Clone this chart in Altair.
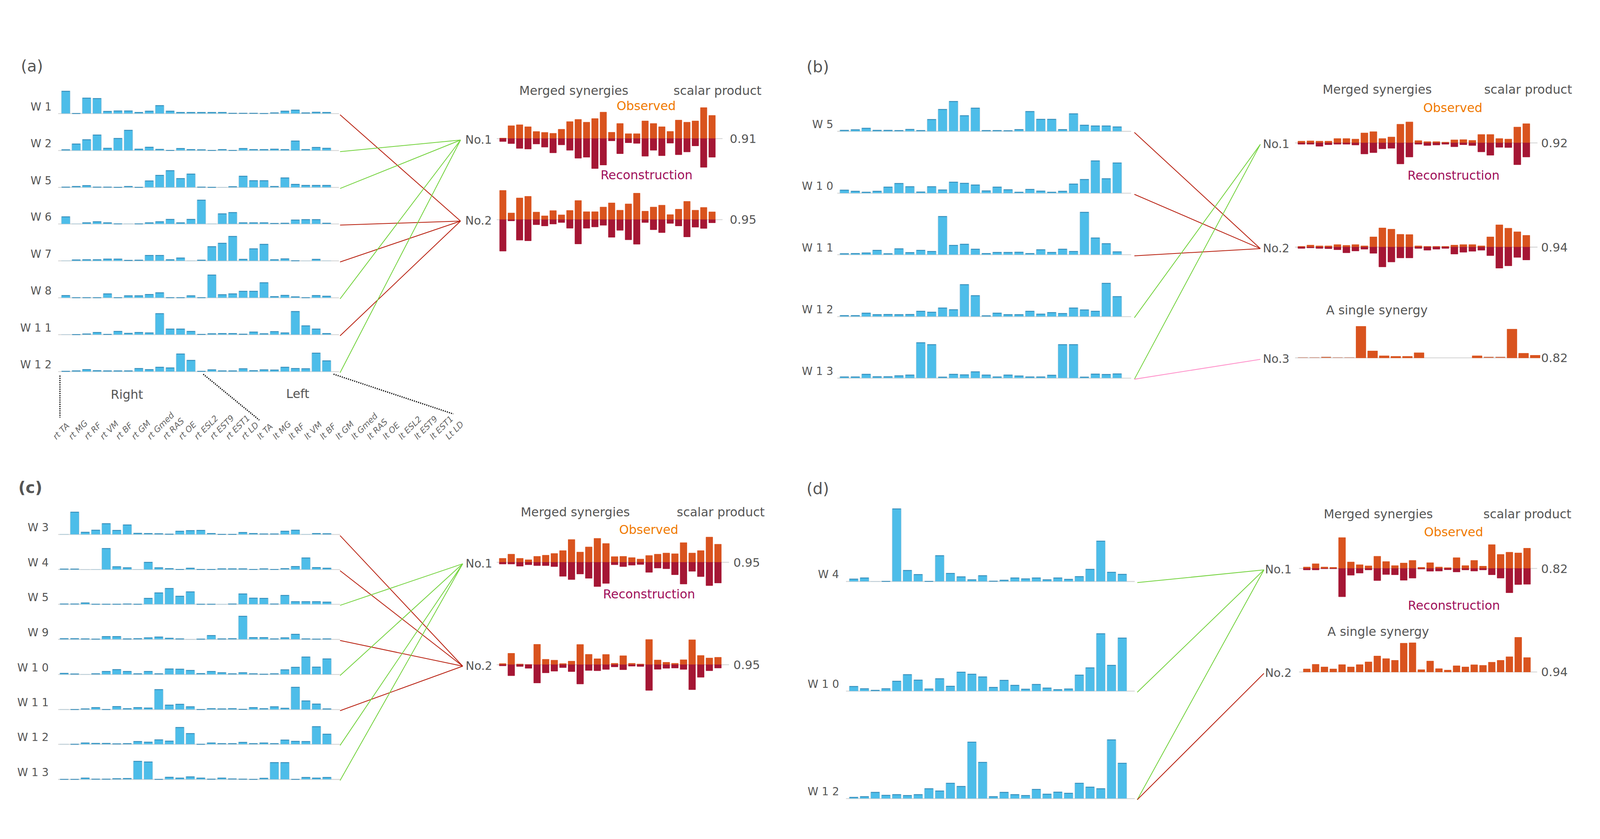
import altair as alt
import pandas as pd

# ------------------------------------------------------------------ data
MUSCLES = ["rt TA", "rt MG", "rt RF", "rt VM", "rt BF", "rt GM", "rt Gmed", "rt RAS", "rt OE",
           "rt ESL2", "rt EST9", "rt EST1", "rt LD", "lt TA", "lt MG", "lt RF", "lt VM", "lt BF",
           "lt GM", "lt Gmed", "lt RAS", "lt OE", "lt ESL2", "lt EST9", "lt EST1", "Lt LD"]

# panel (a)
A_NAMES = ["W 1", "W 2", "W 5", "W 6", "W 7", "W 8", "W 1 1", "W 1 2"]
A_W1 = [1.06, 0.02, 0.74, 0.72, 0.12, 0.14, 0.14, 0.07, 0.13, 0.39, 0.13, 0.07, 0.07, 0.07, 0.07, 0.07, 0.03, 0.03, 0.03, 0.02, 0.05, 0.13, 0.18, 0.05, 0.08, 0.07]
A_W2 = [0.05, 0.32, 0.52, 0.74, 0.12, 0.58, 0.96, 0.08, 0.17, 0.07, 0.02, 0.11, 0.06, 0.05, 0.02, 0.06, 0.02, 0.11, 0.06, 0.06, 0.08, 0.06, 0.46, 0.06, 0.16, 0.12]
A_W5 = [0.03, 0.06, 0.10, 0.03, 0.03, 0.02, 0.06, 0.02, 0.32, 0.58, 0.80, 0.43, 0.64, 0.03, 0.02, 0.01, 0.05, 0.54, 0.33, 0.33, 0.06, 0.46, 0.16, 0.11, 0.11, 0.11]
A_W6 = [0.35, 0.01, 0.07, 0.12, 0.07, 0.02, 0.01, 0.02, 0.07, 0.12, 0.23, 0.07, 0.23, 1.13, 0.01, 0.49, 0.55, 0.07, 0.07, 0.07, 0.04, 0.05, 0.20, 0.22, 0.22, 0.05]
A_W7 = [0.01, 0.06, 0.07, 0.07, 0.10, 0.10, 0.04, 0.05, 0.27, 0.27, 0.07, 0.15, 0.01, 0.05, 0.68, 0.84, 1.16, 0.09, 0.58, 0.79, 0.07, 0.11, 0.02, 0.00, 0.09, 0.01]
A_W8 = [0.12, 0.02, 0.02, 0.02, 0.20, 0.02, 0.11, 0.11, 0.17, 0.25, 0.02, 0.02, 0.11, 0.02, 1.08, 0.16, 0.20, 0.32, 0.32, 0.72, 0.07, 0.13, 0.06, 0.02, 0.12, 0.09]
A_W11 = [0.01, 0.02, 0.05, 0.12, 0.03, 0.17, 0.08, 0.12, 0.10, 1.00, 0.28, 0.28, 0.17, 0.03, 0.06, 0.07, 0.07, 0.04, 0.14, 0.06, 0.16, 0.10, 1.10, 0.43, 0.28, 0.07]
A_W12 = [0.03, 0.05, 0.11, 0.06, 0.05, 0.05, 0.05, 0.16, 0.11, 0.22, 0.19, 0.84, 0.54, 0.03, 0.10, 0.05, 0.05, 0.15, 0.06, 0.10, 0.09, 0.22, 0.16, 0.15, 0.88, 0.52]
A_LINKS = [(0, 2), (1, 1), (2, 1), (3, 2), (4, 2), (5, 1), (6, 2), (7, 1)]
A_NO1_OBS = [0.04, 1.02, 1.10, 0.94, 0.56, 0.49, 0.42, 0.74, 1.35, 1.52, 1.30, 1.59, 2.10, 0.50, 1.20, 0.39, 0.39, 1.40, 1.20, 0.94, 0.57, 1.47, 1.30, 1.40, 2.46, 1.84]
A_NO1_REC = [0.23, 0.40, 0.78, 0.83, 0.43, 0.68, 1.13, 0.50, 0.93, 1.56, 1.48, 2.38, 2.10, 0.18, 1.20, 0.33, 0.38, 1.40, 0.93, 1.36, 0.36, 1.28, 1.06, 0.58, 2.28, 1.48]
A_NO2_OBS = [2.32, 0.53, 1.72, 1.85, 0.60, 0.30, 0.72, 0.38, 0.73, 1.52, 0.63, 0.63, 1.00, 1.33, 0.75, 1.25, 2.10, 0.67, 1.00, 1.15, 0.40, 0.83, 1.45, 0.75, 0.97, 0.62]
A_NO2_REC = [2.50, 0.10, 1.63, 1.68, 0.40, 0.50, 0.35, 0.23, 0.68, 1.93, 0.68, 0.58, 0.45, 1.40, 0.85, 1.60, 1.95, 0.23, 0.80, 1.03, 0.30, 0.50, 1.37, 0.60, 0.70, 0.25]
A_SCORES = ["0.91", "0.95"]

# panel (b)
B_NAMES = ["W 5", "W 1 0", "W 1 1", "W 1 2", "W 1 3"]
B_W5 = [0.07, 0.10, 0.18, 0.07, 0.07, 0.06, 0.12, 0.06, 0.64, 1.17, 1.59, 0.84, 1.24, 0.06, 0.06, 0.05, 0.11, 1.06, 0.65, 0.65, 0.11, 0.94, 0.34, 0.30, 0.30, 0.25]
B_W10 = [0.18, 0.12, 0.07, 0.12, 0.34, 0.53, 0.36, 0.08, 0.36, 0.19, 0.60, 0.54, 0.45, 0.14, 0.34, 0.20, 0.07, 0.22, 0.13, 0.07, 0.12, 0.50, 0.74, 1.72, 0.78, 1.61]
B_W11 = [0.07, 0.08, 0.11, 0.25, 0.07, 0.33, 0.13, 0.25, 0.19, 2.03, 0.51, 0.57, 0.31, 0.08, 0.14, 0.14, 0.15, 0.08, 0.28, 0.14, 0.31, 0.19, 2.25, 0.90, 0.60, 0.17]
B_W12 = [0.07, 0.07, 0.20, 0.12, 0.13, 0.12, 0.13, 0.30, 0.25, 0.47, 0.38, 1.70, 1.12, 0.06, 0.20, 0.12, 0.12, 0.30, 0.15, 0.23, 0.18, 0.47, 0.37, 0.30, 1.77, 1.07]
B_W13 = [0.08, 0.08, 0.22, 0.09, 0.09, 0.14, 0.18, 1.88, 1.78, 0.07, 0.22, 0.19, 0.35, 0.18, 0.08, 0.18, 0.13, 0.08, 0.08, 0.17, 1.78, 1.78, 0.07, 0.23, 0.21, 0.24]
B_LINKS = [(0, 2), (1, 2), (2, 2), (3, 1), (4, 1), (4, 3)]
B_NO1_OBS = [0.07, 0.08, 0.07, 0.07, 0.17, 0.17, 0.15, 0.39, 0.44, 0.17, 0.23, 0.73, 0.82, 0.09, 0.05, 0.05, 0.03, 0.12, 0.13, 0.10, 0.33, 0.33, 0.17, 0.15, 0.62, 0.75]
B_NO1_REC = [0.05, 0.05, 0.13, 0.07, 0.05, 0.05, 0.08, 0.43, 0.38, 0.23, 0.21, 0.82, 0.55, 0.05, 0.10, 0.08, 0.05, 0.15, 0.07, 0.10, 0.35, 0.48, 0.17, 0.18, 0.85, 0.55]
B_NO2_OBS = [0.03, 0.08, 0.05, 0.05, 0.10, 0.07, 0.10, 0.05, 0.40, 0.75, 0.70, 0.50, 0.49, 0.05, 0.03, 0.03, 0.03, 0.08, 0.10, 0.10, 0.05, 0.40, 0.87, 0.74, 0.60, 0.46]
B_NO2_REC = [0.05, 0.03, 0.05, 0.06, 0.10, 0.22, 0.15, 0.08, 0.24, 0.77, 0.58, 0.42, 0.42, 0.05, 0.12, 0.08, 0.05, 0.27, 0.20, 0.16, 0.12, 0.33, 0.82, 0.73, 0.40, 0.50]
B_NO3 = [0.02, 0.02, 0.04, 0.02, 0.02, 1.23, 0.27, 0.08, 0.06, 0.06, 0.20, 0.0, 0.0, 0.0, 0.0, 0.08, 0.04, 0.04, 1.12, 0.18, 0.10]
B_SCORES = ["0.92", "0.94", "0.82"]

# panel (c)
C_NAMES = ["W 3", "W 4", "W 5", "W 9", "W 1 0", "W 1 1", "W 1 2", "W 1 3"]
C_W3 = [0.01, 1.08, 0.12, 0.22, 0.53, 0.21, 0.47, 0.07, 0.06, 0.05, 0.03, 0.17, 0.20, 0.21, 0.06, 0.02, 0.02, 0.11, 0.06, 0.04, 0.04, 0.17, 0.22, 0.01, 0.06, 0.05]
C_W4 = [0.04, 0.04, 0.00, 0.01, 1.02, 0.15, 0.10, 0.01, 0.36, 0.10, 0.06, 0.02, 0.08, 0.02, 0.02, 0.05, 0.05, 0.05, 0.02, 0.05, 0.02, 0.06, 0.16, 0.57, 0.11, 0.08]
C_W5 = [0.03, 0.03, 0.08, 0.02, 0.02, 0.02, 0.03, 0.02, 0.30, 0.56, 0.77, 0.40, 0.61, 0.02, 0.02, 0.01, 0.03, 0.51, 0.31, 0.30, 0.03, 0.44, 0.14, 0.14, 0.14, 0.12]
C_W9 = [0.05, 0.05, 0.04, 0.03, 0.15, 0.15, 0.04, 0.05, 0.09, 0.13, 0.07, 0.04, 0.00, 0.03, 0.20, 0.04, 0.05, 1.12, 0.10, 0.10, 0.04, 0.09, 0.26, 0.04, 0.03, 0.04]
C_W10 = [0.07, 0.04, 0.01, 0.05, 0.16, 0.25, 0.16, 0.05, 0.16, 0.05, 0.28, 0.27, 0.21, 0.06, 0.16, 0.10, 0.05, 0.10, 0.05, 0.03, 0.05, 0.24, 0.36, 0.85, 0.37, 0.76]
C_W11 = [0.01, 0.02, 0.05, 0.11, 0.02, 0.16, 0.06, 0.11, 0.09, 0.97, 0.23, 0.27, 0.15, 0.02, 0.06, 0.05, 0.06, 0.03, 0.11, 0.06, 0.15, 0.08, 1.08, 0.43, 0.28, 0.05]
C_W12 = [0.01, 0.02, 0.08, 0.06, 0.06, 0.04, 0.05, 0.15, 0.12, 0.23, 0.17, 0.82, 0.53, 0.02, 0.08, 0.05, 0.05, 0.11, 0.05, 0.08, 0.05, 0.22, 0.16, 0.15, 0.86, 0.50]
C_W13 = [0.02, 0.02, 0.08, 0.03, 0.03, 0.05, 0.06, 0.88, 0.85, 0.02, 0.12, 0.08, 0.14, 0.08, 0.03, 0.08, 0.04, 0.03, 0.02, 0.07, 0.82, 0.82, 0.02, 0.11, 0.08, 0.11]
C_LINKS = [(0, 2), (1, 2), (2, 1), (3, 2), (4, 1), (5, 2), (6, 1), (7, 1)]
C_NO1_OBS = [0.28, 0.57, 0.28, 0.18, 0.42, 0.50, 0.62, 0.82, 1.60, 0.72, 1.08, 1.68, 1.32, 0.40, 0.42, 0.33, 0.23, 0.48, 0.57, 0.65, 0.60, 1.38, 0.65, 0.82, 1.77, 1.27]
C_NO1_REC = [0.12, 0.12, 0.27, 0.17, 0.23, 0.23, 0.30, 0.98, 1.21, 0.82, 1.12, 1.70, 1.48, 0.17, 0.30, 0.20, 0.15, 0.70, 0.40, 0.45, 0.87, 1.52, 0.63, 1.00, 1.63, 1.45]
C_NO2_OBS = [0.08, 0.80, 0.05, 0.02, 1.43, 0.38, 0.32, 0.08, 0.25, 1.42, 0.73, 0.42, 0.72, 0.10, 0.63, 0.10, 0.05, 1.77, 0.33, 0.17, 0.10, 0.35, 1.75, 0.65, 0.47, 0.52]
C_NO2_REC = [0.08, 0.77, 0.12, 0.25, 1.28, 0.57, 0.45, 0.20, 0.48, 1.35, 0.40, 0.42, 0.33, 0.15, 0.35, 0.10, 0.12, 1.80, 0.32, 0.25, 0.23, 0.33, 1.75, 0.88, 0.42, 0.23]
C_SCORES = ["0.95", "0.95"]

# panel (d)
D_NAMES = ["W 4", "W 1 0", "W 1 2"]
D_W4 = [0.12, 0.17, 0.00, 0.02, 3.21, 0.50, 0.32, 0.02, 1.15, 0.37, 0.22, 0.09, 0.27, 0.03, 0.07, 0.17, 0.13, 0.17, 0.09, 0.17, 0.11, 0.23, 0.55, 1.79, 0.42, 0.33]
D_W10 = [0.22, 0.12, 0.05, 0.12, 0.45, 0.74, 0.50, 0.11, 0.56, 0.23, 0.85, 0.76, 0.64, 0.18, 0.49, 0.27, 0.10, 0.31, 0.15, 0.08, 0.11, 0.72, 1.04, 2.54, 1.15, 2.35]
D_W12 = [0.07, 0.10, 0.29, 0.16, 0.19, 0.15, 0.19, 0.45, 0.35, 0.69, 0.55, 2.50, 1.61, 0.10, 0.29, 0.19, 0.15, 0.42, 0.21, 0.30, 0.25, 0.69, 0.52, 0.45, 2.60, 1.57]
D_LINKS = [(0, 1), (1, 1), (2, 1), (2, 2)]
D_NO1_OBS = [0.10, 0.33, 0.10, 0.08, 2.15, 0.45, 0.26, 0.18, 0.85, 0.48, 0.20, 0.38, 0.56, 0.08, 0.40, 0.10, 0.06, 0.75, 0.20, 0.56, 0.16, 1.66, 0.98, 1.13, 1.08, 1.41]
D_NO1_REC = [0.10, 0.10, 0.02, 0.02, 1.97, 0.47, 0.32, 0.10, 0.84, 0.42, 0.44, 0.82, 0.67, 0.04, 0.19, 0.18, 0.09, 0.24, 0.10, 0.18, 0.10, 0.44, 0.67, 1.69, 1.12, 1.10]
D_NO2 = [0.21, 0.53, 0.35, 0.21, 0.51, 0.35, 0.51, 0.70, 1.11, 0.93, 0.81, 2.00, 2.03, 0.16, 0.76, 0.23, 0.13, 0.43, 0.35, 0.50, 0.46, 0.68, 0.81, 1.06, 2.41, 1.00]
D_SCORES = ["0.82", "0.94"]

# ------------------------------------------------------------------ style
FONT = "DejaVu Sans"
BLUE, BLUE_EDGE, BLUE_TOP = "#4dbde9", "#b3cbd8", "#2b87b7"
OBS, REC = "#d9531e", "#a51634"
AXIS, GRAY = "#d6d6d6", "#555555"
OBS_TXT, REC_TXT = "#f07a00", "#a0105a"
LINK_COL = {1: "#72d23c", 2: "#b71d0c", 3: "#ff8fc9"}
W, H = 4404, 2124  # drawing area; coordinates below are page pixels

PANELS = [
    dict(letter="(a)", lpos=(57, 100), bold=False, names=A_NAMES,
         rows=[A_W1, A_W2, A_W5, A_W6, A_W7, A_W8, A_W11, A_W12],
         wbase=[229, 331, 433, 534, 636, 738, 840, 942], wlx=142,
         bx0=169, bstep=28.83, bw=24.2, ax=(160, 936), wsc=59.1,
         lx=(939, 1272), links=A_LINKS,
         mbase=[298, 522], nox=1285, mx0=1380, mstep=23.12, mw=18.0, max=(1372, 1996), msc=34.8,
         sx=2016, scores=A_SCORES,
         merged=[("pair", A_NO1_OBS, A_NO1_REC), ("pair", A_NO2_OBS, A_NO2_REC)],
         heads=[("Merged synergies", 1585, 167, GRAY), ("scalar product", 1982, 167, GRAY),
                ("Observed", 1785, 209, OBS_TXT), ("Reconstruction", 1786, 400, REC_TXT)]),
    dict(letter="(b)", lpos=(2228, 102), bold=False, names=B_NAMES,
         rows=[B_W5, B_W10, B_W11, B_W12, B_W13],
         wbase=[278, 449, 619, 790, 960], wlx=2302,
         bx0=2320, bstep=30.15, bw=25.3, ax=(2313, 3125), wsc=52.5,
         lx=(3134, 3482), links=B_LINKS,
         mbase=[310, 598, 904], nox=3489, mx0=3586, mstep=24.85, mw=19.4, max=(3578, 4248), msc=70.8,
         sx=4258, scores=B_SCORES,
         merged=[("pair", B_NO1_OBS, B_NO1_REC), ("pair", B_NO2_OBS, B_NO2_REC),
                 ("single", B_NO3, 3586, 32.1, 27.2, (3578, 4255))],
         heads=[("Merged synergies", 3805, 164, GRAY), ("scalar product", 4222, 164, GRAY),
                ("Observed", 4014, 215, OBS_TXT), ("Reconstruction", 4016, 402, REC_TXT),
                ("A single synergy", 3804, 774, GRAY)]),
    dict(letter="(c)", lpos=(50, 1264), bold=True, names=C_NAMES,
         rows=[C_W3, C_W4, C_W5, C_W9, C_W10, C_W11, C_W12, C_W13],
         wbase=[1392, 1489, 1585, 1682, 1779, 1876, 1972, 2069], wlx=134,
         bx0=164.5, bstep=29.04, bw=24.4, ax=(160, 939), wsc=57.9,
         lx=(939, 1278), links=C_LINKS,
         mbase=[1469, 1752], nox=1286, mx0=1379, mstep=23.8, mw=18.6, max=(1372, 2014), msc=39.4,
         sx=2026, scores=C_SCORES,
         merged=[("pair", C_NO1_OBS, C_NO1_REC), ("pair", C_NO2_OBS, C_NO2_REC)],
         heads=[("Merged synergies", 1589, 1332, GRAY), ("scalar product", 1991, 1332, GRAY),
                ("Observed", 1792, 1381, OBS_TXT), ("Reconstruction", 1793, 1559, REC_TXT)]),
    dict(letter="(d)", lpos=(2228, 1268), bold=False, names=D_NAMES,
         rows=[D_W4, D_W10, D_W12],
         wbase=[1522, 1825, 2122], wlx=2318,
         bx0=2346, bstep=29.68, bw=24.9, ax=(2337, 3135), wsc=62.8,
         lx=(3142, 3492), links=D_LINKS,
         mbase=[1486, 1772], nox=3495, mx0=3601, mstep=24.34, mw=19.0, max=(3589, 4247), msc=39.7,
         sx=4258, scores=D_SCORES,
         merged=[("pair", D_NO1_OBS, D_NO1_REC), ("single", D_NO2, 3601, 24.34, 19.0, (3589, 4247))],
         heads=[("Merged synergies", 3808, 1337, GRAY), ("scalar product", 4220, 1337, GRAY),
                ("Observed", 4016, 1387, OBS_TXT), ("Reconstruction", 4017, 1590, REC_TXT),
                ("A single synergy", 3808, 1662, GRAY)]),
]

# ------------------------------------------------------------------ build tables
wrects, wtops, mrects, axes, links = [], [], [], [], []
t_left, t_center, t_right, t_bold = [], [], [], []

for P in PANELS:
    letter_row = dict(x=P["lpos"][0], y=P["lpos"][1], text=P["letter"], color=GRAY, size=44)
    (t_bold if P["bold"] else t_left).append(letter_row)
    for k, (vals, name) in enumerate(zip(P["rows"], P["names"])):
        base = P["wbase"][k]
        axes.append(dict(x0=P["ax"][0], x1=P["ax"][1], y=base, c=AXIS))
        for i, v in enumerate(vals):
            x0 = P["bx0"] + i * P["bstep"]
            top = base - v * P["wsc"]
            wrects.append(dict(x0=x0, x1=x0 + P["bw"], y0=base, y1=top))
            if v >= 0.015:
                wtops.append(dict(x0=x0 + 1, x1=x0 + P["bw"] - 1, y=top + 1))
        t_right.append(dict(x=P["wlx"], y=base - 18, text=name, color=GRAY, size=30))
    for j, spec in enumerate(P["merged"]):
        base = P["mbase"][j]
        if spec[0] == "pair":
            _, obs, rec = spec
            axes.append(dict(x0=P["max"][0], x1=P["max"][1], y=base, c=AXIS))
            for i, (o, r) in enumerate(zip(obs, rec)):
                x0 = P["mx0"] + i * P["mstep"]
                mrects.append(dict(x0=x0, x1=x0 + P["mw"], y0=base, y1=base - o * P["msc"], fill=OBS, st=OBS))
                mrects.append(dict(x0=x0, x1=x0 + P["mw"], y0=base, y1=base + r * P["msc"], fill=REC, st=REC))
        else:
            _, vals, sx0, sstep, sw, sax = spec
            axes.append(dict(x0=sax[0], x1=sax[1], y=base, c=AXIS))
            for i, v in enumerate(vals):
                x0 = sx0 + i * sstep
                if v > 0:
                    mrects.append(dict(x0=x0, x1=x0 + sw, y0=base, y1=base - v * P["msc"], fill=OBS,
                                       st="#cfc4c4" if v < 0.05 else OBS))
        t_left.append(dict(x=P["nox"], y=base + 4, text="No.%d" % (j + 1), color=GRAY, size=32))
        t_left.append(dict(x=P["sx"], y=base + 2, text=P["scores"][j], color=GRAY, size=33))
    for (row, target) in P["links"]:
        links.append(dict(x0=P["lx"][0], y0=P["wbase"][row] + 3, x1=P["lx"][1],
                          y1=P["mbase"][target - 1] + 4, c=LINK_COL[target]))
    for (txt, x, y, col) in P["heads"]:
        t_center.append(dict(x=x, y=y, text=txt, color=col, size=34))

# muscle-name key under panel (a)
t_center.append(dict(x=350, y=1007, text="Right", color=GRAY, size=34))
t_center.append(dict(x=822, y=1005, text="Left", color=GRAY, size=34))
muscle_df = pd.DataFrame(dict(x=[150 + 43.4 * i for i in range(len(MUSCLES))],
                              y=[1126] * len(MUSCLES), text=MUSCLES))
dots_df = pd.DataFrame(dict(x0=[165, 561, 921], y0=[953, 949, 949],
                            x1=[165, 716, 1252], y1=[1069, 1076, 1059]))

# ------------------------------------------------------------------ chart
XS = alt.Scale(domain=[8, 8 + W], nice=False, zero=False)
YS = alt.Scale(domain=[8 + H, 8], nice=False, zero=False)


def X(f):
    return alt.X(f, type="quantitative", scale=XS, axis=None)


def Y(f):
    return alt.Y(f, type="quantitative", scale=YS, axis=None)


axis_layer = alt.Chart(pd.DataFrame(axes)).mark_rule(strokeWidth=2.5).encode(
    x=X("x0"), x2="x1", y=Y("y"), color=alt.Color("c:N", scale=None))

link_layer = alt.Chart(pd.DataFrame(links)).mark_rule(strokeWidth=2.2).encode(
    x=X("x0"), y=Y("y0"), x2="x1", y2="y1", color=alt.Color("c:N", scale=None))

dots_layer = alt.Chart(dots_df).mark_rule(strokeWidth=3.5, strokeDash=[3, 3], color="#111111").encode(
    x=X("x0"), y=Y("y0"), x2="x1", y2="y1")

w_layer = alt.Chart(pd.DataFrame(wrects)).mark_rect(fill=BLUE, stroke=BLUE_EDGE, strokeWidth=1).encode(
    x=X("x0"), x2="x1", y=Y("y0"), y2="y1")

wtop_layer = alt.Chart(pd.DataFrame(wtops)).mark_rule(strokeWidth=2, color=BLUE_TOP).encode(
    x=X("x0"), x2="x1", y=Y("y"))

m_layer = alt.Chart(pd.DataFrame(mrects)).mark_rect(strokeWidth=1).encode(
    x=X("x0"), x2="x1", y=Y("y0"), y2="y1",
    fill=alt.Fill("fill:N", scale=None), stroke=alt.Stroke("st:N", scale=None))


def text_layer(rows, align, weight="normal"):
    return alt.Chart(pd.DataFrame(rows)).mark_text(
        align=align, baseline="middle", font=FONT, fontWeight=weight).encode(
        x=X("x"), y=Y("y"), text="text:N",
        color=alt.Color("color:N", scale=None), size=alt.Size("size:Q", scale=None))


muscle_layer = alt.Chart(muscle_df).mark_text(
    align="left", baseline="middle", angle=315, font=FONT, fontSize=23,
    fontStyle="italic", color="#666666").encode(x=X("x"), y=Y("y"), text="text:N")

chart = alt.layer(
    axis_layer, link_layer, dots_layer, w_layer, wtop_layer, m_layer,
    text_layer(t_left, "left"), text_layer(t_bold, "left", "bold"),
    text_layer(t_center, "center"), text_layer(t_right, "right"),
    muscle_layer,
).properties(
    width=W, height=H, padding=0, autosize=alt.AutoSizeParams(type="none"), background="white"
).configure_view(stroke=None)

chart.save("out.html", embed_options={"renderer": "svg", "actions": False})
